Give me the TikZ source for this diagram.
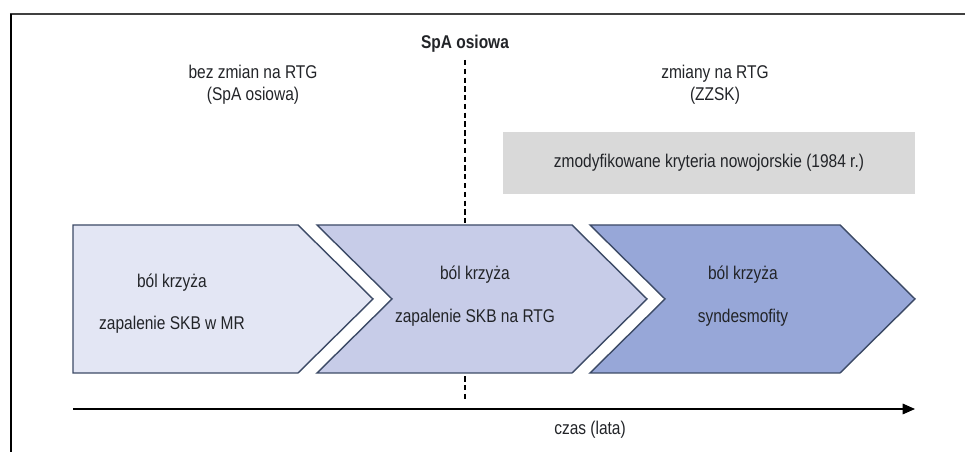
\documentclass[tikz,border=0pt]{standalone}
\usepackage{fontspec}
\setmainfont{Liberation Sans}[FakeStretch=0.84]
\usepackage{tikz}
\usetikzlibrary{arrows.meta,calc}
\definecolor{spaink}{HTML}{222428}
\definecolor{spaline}{HTML}{3C4A66}
\definecolor{spaone}{HTML}{E3E6F4}
\definecolor{spatwo}{HTML}{C7CCE8}
\definecolor{spathree}{HTML}{97A7D8}
\definecolor{spagray}{HTML}{D9D9D9}

\begin{document}
\begin{tikzpicture}[line join=miter,
  font=\fontsize{10.5}{12.5}\selectfont,text=spaink,
  chev/.style={draw=spaline,line width=.8pt},
  lbl/.style={align=center,inner sep=1pt}]
\path[use as bounding box] (0,0) rectangle (19.3,9.04);
\fill[white] (0,0) rectangle (19.3,9.04);
% ramka
\draw[black!75,line width=1.1pt] (0.2,8.76)--(19.3,8.76);
\draw[black,line width=.8pt] (0.22,8.76)--(0.22,0);

% granica SpA osiowa
\coordinate (ltop) at (9.3,7.84);
\coordinate (lbot) at (9.3,1.04);
\draw[black,densely dashed,line width=.9pt] (ltop)--(lbot);
\node[font=\fontsize{10.5}{12.5}\selectfont\bfseries] (spa) at (9.3,8.16) {SpA osiowa};
\node[lbl] (bez) at (5.06,7.34) {bez zmian na RTG\\(SpA osiowa)};
\node[lbl] (zmiany) at (14.3,7.34) {zmiany na RTG\\(ZZSK)};
\fill[spagray] (10.06,5.16) rectangle (18.3,6.4);
\node (kryt) at (14.18,5.78) {zmodyfikowane kryteria nowojorskie (1984 r.)};

% trzy etapy
\filldraw[chev,fill=spaone] (1.46,4.54)--(5.96,4.54)--(7.46,3.06)--(5.96,1.58)--(1.46,1.58)--cycle;
\filldraw[chev,fill=spatwo] (6.34,4.54)--(11.44,4.54)--(12.94,3.06)--(11.44,1.58)--(6.34,1.58)--(7.84,3.06)--cycle;
\filldraw[chev,fill=spathree] (11.8,4.54)--(16.8,4.54)--(18.3,3.06)--(16.8,1.58)--(11.8,1.58)--(13.3,3.06)--cycle;
\node (bol1) at (3.44,3.38) {ból krzyża};
\node (mr) at (3.44,2.54) {zapalenie SKB w MR};
\node (bol2) at (9.5,3.54) {ból krzyża};
\node (rtg) at (9.5,2.68) {zapalenie SKB na RTG};
\node (bol3) at (14.86,3.54) {ból krzyża};
\node (synd) at (14.86,2.68) {syndesmofity};

% oś czasu
\coordinate (t0) at (1.46,0.86);
\coordinate (t1) at (18.3,0.86);
\draw[black,line width=.8pt,-{Triangle[length=7pt,width=6pt]}] (t0)--(t1);
\node (czas) at (11.8,0.44) {czas (lata)};
\end{tikzpicture}
\end{document}
